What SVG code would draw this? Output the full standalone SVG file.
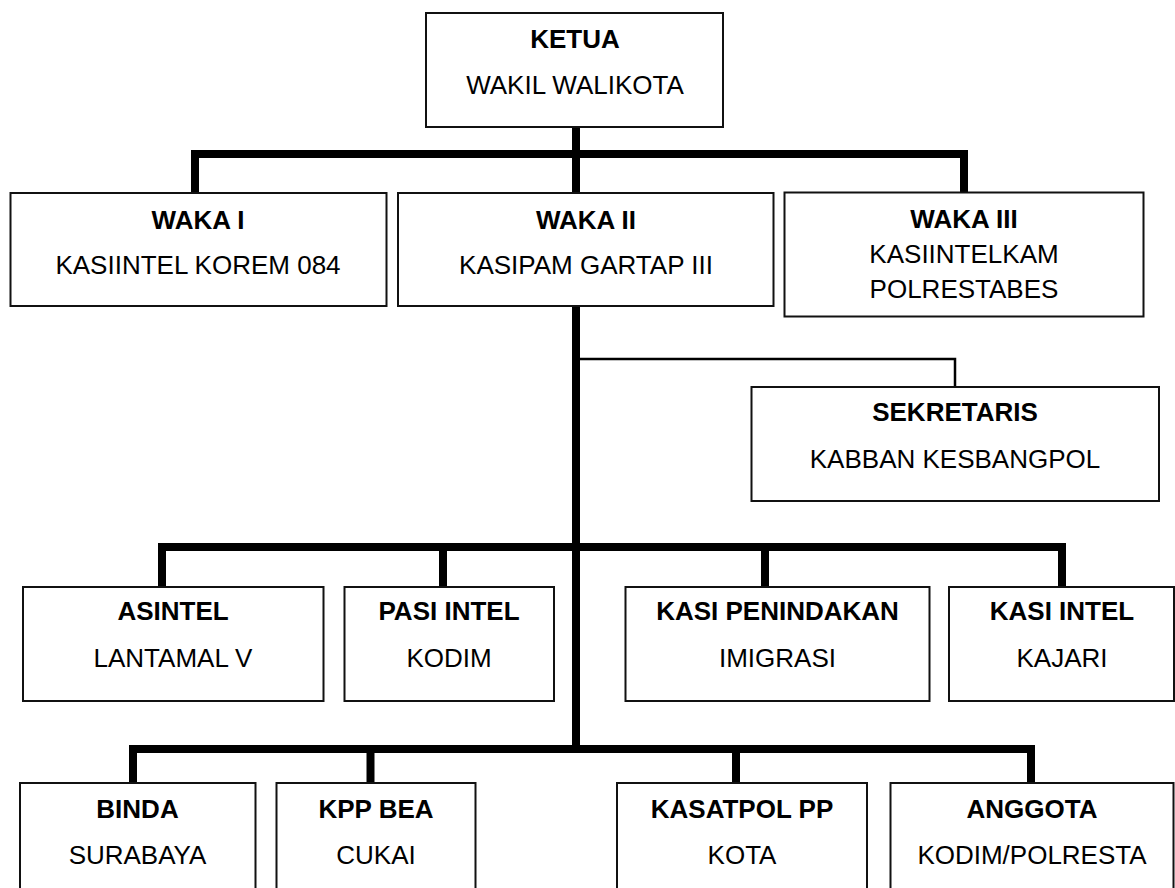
<svg xmlns="http://www.w3.org/2000/svg" width="1175" height="888" viewBox="0 0 1175 888">
<style>
.box{fill:#fff;stroke:#111;stroke-width:2}
.t{font-family:"Liberation Sans",Arial,sans-serif;font-size:26px;text-anchor:middle;fill:#000}
.b{font-weight:bold}
.thick{fill:none;stroke:#000;stroke-width:8;stroke-linejoin:miter;stroke-linecap:butt}
.thin{fill:none;stroke:#000;stroke-width:2.5}
</style>
<rect width="1175" height="888" fill="#fff"/>
<g id="connectors">
<path class="thick" d="M576,127 V193"/>
<path class="thick" d="M195,193 V154 H964 V193"/>
<path class="thick" d="M576,306 V753"/>
<path class="thin" d="M576,359 H955 V387"/>
<path class="thick" d="M162,587 V547 H1062 V587"/>
<path class="thick" d="M443,547 V587"/>
<path class="thick" d="M765,547 V587"/>
<path class="thick" d="M133,783 V749 H1031 V783"/>
<path class="thick" d="M370.5,749 V783"/>
<path class="thick" d="M736,749 V783"/>
</g>
<g id="ketua">
<rect class="box" x="426" y="13" width="297" height="114"/>
<text class="t b" x="575" y="48">KETUA</text>
<text class="t" x="575" y="94">WAKIL WALIKOTA</text>
</g>
<g id="waka1">
<rect class="box" x="10.5" y="193" width="376" height="113"/>
<text class="t b" x="198" y="228.5">WAKA I</text>
<text class="t" x="198" y="274">KASIINTEL KOREM 084</text>
</g>
<g id="waka2">
<rect class="box" x="398" y="193" width="375.5" height="113"/>
<text class="t b" x="586" y="228.5">WAKA II</text>
<text class="t" x="586" y="274">KASIPAM GARTAP III</text>
</g>
<g id="waka3">
<rect class="box" x="784.5" y="192.5" width="359" height="124"/>
<text class="t b" x="964" y="227.5">WAKA III</text>
<text class="t" x="964" y="263">KASIINTELKAM</text>
<text class="t" x="964" y="298">POLRESTABES</text>
</g>
<g id="sekretaris">
<rect class="box" x="751.5" y="387" width="407.5" height="114"/>
<text class="t b" x="955" y="421">SEKRETARIS</text>
<text class="t" x="955" y="467.5">KABBAN KESBANGPOL</text>
</g>
<g id="asintel">
<rect class="box" x="23" y="587" width="300.5" height="114"/>
<text class="t b" x="173" y="620">ASINTEL</text>
<text class="t" x="173" y="667">LANTAMAL V</text>
</g>
<g id="pasiintel">
<rect class="box" x="344.5" y="587" width="209.5" height="114"/>
<text class="t b" x="449" y="620">PASI INTEL</text>
<text class="t" x="449" y="667">KODIM</text>
</g>
<g id="kasipenindakan">
<rect class="box" x="625.5" y="587" width="304" height="114"/>
<text class="t b" x="777.5" y="620">KASI PENINDAKAN</text>
<text class="t" x="777.5" y="667">IMIGRASI</text>
</g>
<g id="kasiintel">
<rect class="box" x="949" y="587" width="225" height="114"/>
<text class="t b" x="1062" y="620">KASI INTEL</text>
<text class="t" x="1062" y="667">KAJARI</text>
</g>
<g id="binda">
<rect class="box" x="20" y="783" width="235.5" height="120"/>
<text class="t b" x="137.5" y="817.5">BINDA</text>
<text class="t" x="137.5" y="863.5">SURABAYA</text>
</g>
<g id="kppbea">
<rect class="box" x="276.5" y="783" width="199" height="120"/>
<text class="t b" x="376" y="817.5">KPP BEA</text>
<text class="t" x="376" y="863.5">CUKAI</text>
</g>
<g id="kasatpol">
<rect class="box" x="617" y="783" width="250" height="120"/>
<text class="t b" x="742" y="817.5">KASATPOL PP</text>
<text class="t" x="742" y="863.5">KOTA</text>
</g>
<g id="anggota">
<rect class="box" x="890.5" y="783" width="283" height="120"/>
<text class="t b" x="1032" y="817.5">ANGGOTA</text>
<text class="t" x="1032" y="863.5">KODIM/POLRESTA</text>
</g>
</svg>
